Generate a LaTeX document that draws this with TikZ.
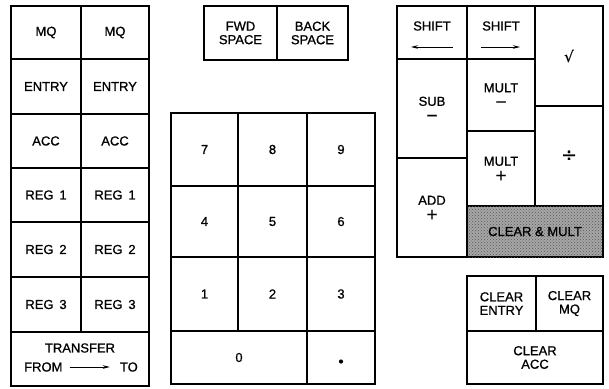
\documentclass[tikz,border=0pt]{standalone}
\usepackage{fontspec}
\setmainfont{Liberation Sans}
\newfontfamily\keyfont[FakeBold=0.9]{Liberation Sans}
\newfontfamily\symfont[FakeBold=0.6]{DejaVu Sans}
\usetikzlibrary{arrows.meta,patterns}
\tikzset{
  key/.style={draw, line width=1.2pt, rectangle, inner sep=0pt, align=center,
    font=\fontsize{13}{13.5}\keyfont},
  lbl/.style={inner sep=0pt, align=center, font=\fontsize{13}{13.5}\keyfont},
  arr/.style={line width=0.9pt, -{Stealth[length=7pt,width=3.6pt]}},
  shade/.style={fill=black!35, postaction={pattern=crosshatch dots, pattern color=black!65}},
}
\newcommand\kb[7][]{\node[key, #1, minimum width={#5-#3}, minimum height={#6-#4}] (#2) at ({(#3+#5)/2},{(#4+#6)/2}) {#7};}
\newcommand\sym[2][15]{{\symfont\fontsize{#1}{14}\selectfont #2}}
\begin{document}
\begin{tikzpicture}[x=1pt,y=-1pt]
\useasboundingbox (0,0) rectangle (609,388);
% left register block
\kb{mqa}{11}{6}{81}{59}{MQ}
\kb{mqb}{81}{6}{149}{59}{MQ}
\kb{ena}{11}{59}{81}{114}{ENTRY}
\kb{enb}{81}{59}{149}{114}{ENTRY}
\kb{aca}{11}{114}{81}{168}{ACC}
\kb{acb}{81}{114}{149}{168}{ACC}
\kb{r1a}{11}{168}{81}{222}{REG\hspace{0.45em}1}
\kb{r1b}{81}{168}{149}{222}{REG\hspace{0.45em}1}
\kb{r2a}{11}{222}{81}{277}{REG\hspace{0.45em}2}
\kb{r2b}{81}{222}{149}{277}{REG\hspace{0.45em}2}
\kb{r3a}{11}{277}{81}{332}{REG\hspace{0.45em}3}
\kb{r3b}{81}{277}{149}{332}{REG\hspace{0.45em}3}
\kb{trf}{11}{332}{149}{386}{}
\node[lbl] (trt) at (80,348) {TRANSFER};
\node[lbl, anchor=west] (from) at (24,367) {FROM};
\node[lbl, anchor=east] (to) at (138,367) {TO};
\draw[arr, shorten <=7pt, shorten >=10pt] (from.east) -- (to.west);
% space keys
\kb{fwd}{204}{6}{277}{60}{FWD\\SPACE}
\kb{bck}{277}{6}{348}{60}{BACK\\SPACE}
% numeric pad
\kb{k7}{171}{113}{238}{186}{7}
\kb{k8}{238}{113}{307}{186}{8}
\kb{k9}{307}{113}{375}{186}{9}
\kb{k4}{171}{186}{238}{257}{4}
\kb{k5}{238}{186}{307}{257}{5}
\kb{k6}{307}{186}{375}{257}{6}
\kb{k1}{171}{257}{238}{331}{1}
\kb{k2}{238}{257}{307}{331}{2}
\kb{k3}{307}{257}{375}{331}{3}
\kb{k0}{171}{331}{307}{384}{0}
\kb{kpt}{307}{331}{375}{384}{}
\fill ([yshift=-4pt]kpt.center) circle (2.1pt);
% function block
\kb{shl}{397}{6}{467}{59}{}
\kb{shr}{467}{6}{535}{59}{}
\node[lbl] (shlt) at (432,26) {SHIFT};
\node[lbl] (shrt) at (501,26) {SHIFT};
\draw[arr] ([shift={(21pt,-14.5pt)}]shl.center) -- ([shift={(-21pt,-14.5pt)}]shl.center);
\draw[arr] ([shift={(-20pt,-14.5pt)}]shr.center) -- ([shift={(19pt,-14.5pt)}]shr.center);
\kb{sqr}{535}{6}{603}{106}{\sym{√}}
\kb{sub}{397}{59}{467}{158}{SUB\\[1pt]\sym{−}}
\kb{mlm}{467}{59}{535}{131}{MULT\\[1pt]\sym{−}}
\kb{mlp}{467}{131}{535}{206}{MULT\\[1pt]\sym{+}}
\kb{dvd}{535}{106}{603}{206}{\sym[19]{÷}}
\kb{add}{397}{158}{467}{257}{ADD\\[1pt]\sym{+}}
\kb[shade]{clm}{467}{206}{603}{257}{CLEAR \& MULT}
% clear keys
\kb{cle}{467}{276}{536}{331}{CLEAR\\ENTRY}
\kb{clq}{536}{276}{603}{331}{CLEAR\\MQ}
\kb{cla}{467}{331}{603}{384}{CLEAR\\ACC}
\end{tikzpicture}
\end{document}
